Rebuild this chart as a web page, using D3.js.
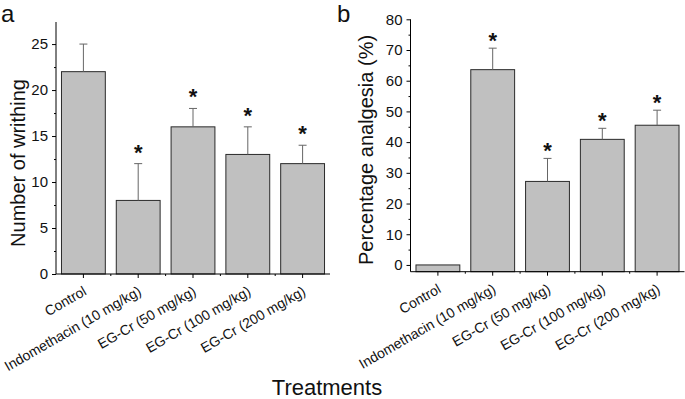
<!DOCTYPE html>
<html>
<head>
<meta charset="utf-8">
<script src="https://cdn.jsdelivr.net/npm/d3@7"></script>
<style>
  body { margin: 0; background: #fff; }
  svg { display: block; font-family: "Liberation Sans", Arial, sans-serif; }
</style>
</head>
<body>
<div id="chart"></div>
<script>
// DATA
const treatments = ["Control", "Indomethacin (10 mg/kg)", "EG-Cr (50 mg/kg)", "EG-Cr (100 mg/kg)", "EG-Cr (200 mg/kg)"];

const writhingMean = [22, 8, 16, 13, 12];
const writhingErr  = [3, 4, 2, 3, 2];
const writhingSig  = [false, true, true, true, true];
const writhingTicks = [0, 5, 10, 15, 20, 25];

const analgesiaMean = [0, 63.6, 27.2, 40.9, 45.5];
const analgesiaErr  = [0, 7.0, 7.5, 3.6, 4.9];
const analgesiaSig  = [false, true, true, true, true];
const analgesiaTicks = [0, 10, 20, 30, 40, 50, 60, 70, 80];

const W = 685, H = 399;
const FONT = "'Liberation Sans', Arial, sans-serif";

let svg = d3.select("#chart").append("svg")
    .attr("width", W)
    .attr("height", H);

// one panel: bars + up-only error bars + asterisks
function drawPanel(p) {
    let x = d3.scaleBand()
        .domain(treatments)
        .range([p.left, p.right])
        .paddingInner(0.2)
        .paddingOuter(0.1);

    let y = d3.scaleLinear()
        .domain(p.domain)
        .range([p.bottom, p.top]);

    let data = treatments.map((t, i) => ({name: t, v: p.mean[i], e: p.err[i], sig: p.sig[i]}));

    let g = svg.append("g");

    // bars (drawn from the bottom of the axis)
    g.selectAll(".bar")
        .data(data)
        .enter()
        .append("rect")
        .attr("class", "bar")
        .attr("x", d => x(d.name))
        .attr("width", x.bandwidth())
        .attr("y", d => y(d.v))
        .attr("height", d => y(p.domain[0]) - y(d.v))
        .attr("fill", "#c0c0c0")
        .attr("stroke", "#2a2a2a")
        .attr("stroke-width", 1);

    // error bars
    let eb = data.filter(d => d.e > 0);
    g.selectAll(".err")
        .data(eb)
        .enter()
        .append("line")
        .attr("x1", d => x(d.name) + x.bandwidth() / 2)
        .attr("x2", d => x(d.name) + x.bandwidth() / 2)
        .attr("y1", d => y(d.v))
        .attr("y2", d => y(d.v + d.e))
        .attr("stroke", "#666")
        .attr("stroke-width", 1);

    g.selectAll(".cap")
        .data(eb)
        .enter()
        .append("line")
        .attr("x1", d => x(d.name) + x.bandwidth() / 2 - 4)
        .attr("x2", d => x(d.name) + x.bandwidth() / 2 + 4)
        .attr("y1", d => y(d.v + d.e))
        .attr("y2", d => y(d.v + d.e))
        .attr("stroke", "#666")
        .attr("stroke-width", 1);

    // asterisks
    g.selectAll(".star")
        .data(data.filter(d => d.sig))
        .enter()
        .append("text")
        .attr("x", d => x(d.name) + x.bandwidth() / 2)
        .attr("y", d => y(d.v + d.e) + p.starShift)
        .attr("text-anchor", "middle")
        .attr("font-size", 22)
        .attr("font-weight", "bold")
        .attr("font-family", FONT)
        .attr("fill", "#111")
        .text("*");

    // y axis
    let yAxis = d3.axisLeft(y).tickValues(p.ticks).tickSize(4).tickPadding(4);
    let yMinor = d3.axisLeft(y).tickValues(p.minor).tickSize(2).tickFormat("");

    let yg = g.append("g")
        .attr("transform", "translate(" + p.left + ",0)")
        .call(yAxis)
        .attr("font-family", FONT)
        .attr("font-size", 15);
    g.append("g")
        .attr("transform", "translate(" + p.left + ",0)")
        .call(yMinor)
        .select(".domain").remove();
    yg.select(".domain").attr("d", "M0," + p.bottom + "V" + p.top);
    yg.selectAll("text").attr("fill", "#111");

    // x axis
    let xAxis = d3.axisBottom(x).tickSize(4).tickFormat("");
    let xg = g.append("g")
        .attr("transform", "translate(0," + p.bottom + ")")
        .call(xAxis);
    xg.select(".domain").attr("d", "M" + p.left + ",0H" + p.right);

    // minor ticks between bars
    let bounds = treatments.slice(1).map(t => x(t) - x.step() * x.paddingInner() / 2);
    xg.selectAll(".minor")
        .data(bounds)
        .enter()
        .append("line")
        .attr("x1", d => d).attr("x2", d => d)
        .attr("y1", 0).attr("y2", 2)
        .attr("stroke", "#000");

    // rotated category labels
    g.selectAll(".xlab")
        .data(treatments)
        .enter()
        .append("text")
        .attr("transform", d => "translate(" + (x(d) + x.bandwidth() / 2 + 4) + "," + (p.bottom + 20) + ") rotate(-30)")
        .attr("text-anchor", "end")
        .attr("font-size", 14)
        .attr("font-family", FONT)
        .attr("fill", "#111")
        .text(d => d);

    // y title
    svg.append("text")
        .attr("transform", "translate(" + p.titleX + "," + p.titleY + ") rotate(-90)")
        .attr("text-anchor", "middle")
        .attr("font-size", 20)
        .attr("font-family", FONT)
        .attr("fill", "#111")
        .text(p.title);

    // panel letter
    svg.append("text")
        .attr("x", p.letterX)
        .attr("y", 22)
        .attr("font-size", 24)
        .attr("font-family", FONT)
        .attr("fill", "#111")
        .text(p.letter);
}

drawPanel({
    letter: "a", letterX: 1,
    left: 56, right: 330, top: 22, bottom: 274,
    domain: [0, 27.4],
    ticks: writhingTicks,
    minor: [2.5, 7.5, 12.5, 17.5, 22.5],
    mean: writhingMean, err: writhingErr, sig: writhingSig,
    starShift: -4,
    title: "Number of writhing", titleX: 25, titleY: 163
});

drawPanel({
    letter: "b", letterX: 337,
    left: 410.5, right: 684.5, top: 19.3, bottom: 271.7,
    domain: [-2.2, 80],
    ticks: analgesiaTicks,
    minor: [5, 15, 25, 35, 45, 55, 65, 75],
    mean: analgesiaMean, err: analgesiaErr, sig: analgesiaSig,
    starShift: 0,
    title: "Percentage analgesia (%)", titleX: 373, titleY: 150
});

// shared x title
svg.append("text")
    .attr("x", 327)
    .attr("y", 395)
    .attr("text-anchor", "middle")
    .attr("font-size", 22)
    .attr("font-family", FONT)
    .attr("fill", "#111")
    .text("Treatments");
</script>
</body>
</html>
